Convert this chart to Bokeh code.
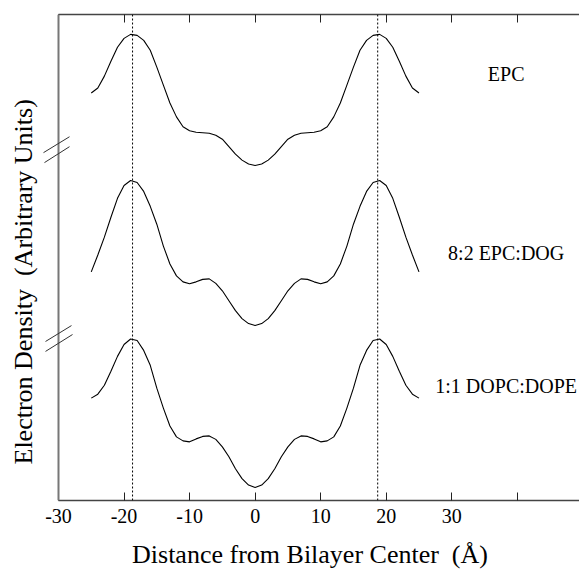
from bokeh.plotting import figure
from bokeh.models import (Range1d, LinearAxis, FixedTicker, Span, Label, Arrow, Title)
from bokeh.embed import file_html
from bokeh.resources import INLINE

# ---- data ----
distance = [-25, -24, -23, -22, -21, -20, -19, -18, -17, -16, -15, -14, -13,
            -12, -11, -10, -9, -8, -7, -6, -5, -4, -3, -2, -1, 0,
            1, 2, 3, 4, 5, 6, 7, 8, 9, 10, 11, 12, 13, 14, 15, 16, 17, 18,
            19, 20, 21, 22, 23, 24, 25]

epc = [73, 78, 90, 105, 119, 128, 132, 131, 126, 116, 99, 81, 63,
       49, 39, 35, 33.5, 33, 32.5, 30.5, 26.5, 19, 11.5, 5.5, 1.5, 0,
       1.5, 5.5, 11.5, 19, 26.5, 30.5, 32.5, 33, 33.5, 35, 39, 49,
       63, 81, 99, 116, 126, 131, 132, 128, 119, 105, 90, 78, 73]

epc_dog = [54, 71, 89, 109, 128, 141, 146, 144, 135, 120, 102, 80, 62,
           50, 44, 42, 44, 46.5, 47, 42.5, 35, 25, 15, 7, 2, 0,
           2, 7, 15, 25, 35, 42.5, 47, 46.5, 44, 42, 44, 50,
           62, 80, 102, 120, 135, 144, 146, 141, 128, 109, 89, 71, 54]

dopc_dope = [90, 94, 103, 117, 132, 144, 149.5, 148, 138, 123, 100, 80, 62,
             51, 47, 46, 49, 51.5, 52, 48.5, 41, 31, 19, 9, 2.5, 0,
             2.5, 9, 19, 31, 41, 48.5, 52, 51.5, 49, 46, 47, 51,
             62, 80, 100, 123, 138, 148, 149.5, 144, 132, 117, 103, 94, 90]

series_names = ["EPC", "8:2 EPC:DOG", "1:1 DOPC:DOPE"]
series_values = [epc, epc_dog, dopc_dope]
series_offsets = [337, 176, 13]          # vertical stacking offsets
headgroup_peaks = [-18.7, 18.7]          # dotted reference lines
x_ticks = [-30, -20, -10, 0, 10, 20, 30]
x_minor_ticks = [40]
x_tick_labels = {-30: "-30", -20: "-20", -10: "-10"}

SERIF = "Liberation Serif"
X_MIN, X_MAX = -30, 49.49

p = figure(width=579, height=571, output_backend="svg", toolbar_location=None,
           x_range=Range1d(-32.746, X_MAX), y_range=Range1d(0, 489),
           min_border_left=40, min_border_right=0, min_border_top=14,
           min_border_bottom=68, x_axis_location=None, y_axis_location=None)
p.outline_line_color = None
p.xgrid.visible = False
p.ygrid.visible = False
p.background_fill_color = "white"
p.border_fill_color = "white"

def make_axis(show_labels):
    ax = LinearAxis(ticker=FixedTicker(ticks=x_ticks, minor_ticks=x_minor_ticks))
    ax.bounds = (X_MIN, X_MAX)
    ax.major_tick_in = 8
    ax.major_tick_out = 0
    ax.minor_tick_in = 8
    ax.minor_tick_out = 0
    ax.major_tick_line_color = "#222222"
    ax.minor_tick_line_color = "#222222"
    ax.axis_line_color = "#444444"
    ax.axis_line_width = 1.5
    if show_labels:
        ax.major_label_overrides = x_tick_labels
        ax.major_label_text_font = SERIF
        ax.major_label_text_font_size = "20px"
        ax.major_label_text_color = "black"
        ax.major_label_standoff = 8
        ax.axis_label = "Distance from Bilayer Center\u00a0 (\u00c5)"
        ax.axis_label_text_font = SERIF
        ax.axis_label_text_font_size = "26px"
        ax.axis_label_text_font_style = "normal"
        ax.axis_label_text_color = "black"
        ax.axis_label_standoff = 14
    else:
        ax.major_label_text_font_size = "8px"
        ax.major_label_text_color = None
        ax.major_label_standoff = 0
    return ax

p.add_layout(make_axis(True), "below")
p.add_layout(make_axis(False), "above")

# left spine
p.add_layout(Span(location=X_MIN, dimension="height", line_color="#777777",
                  line_width=2))

for loc in headgroup_peaks:
    p.add_layout(Span(location=loc, dimension="height", line_color="black",
                      line_width=1, line_dash="2 2"))

for name, vals, off in zip(series_names, series_values, series_offsets):
    ys = [v + off for v in vals]
    p.line(distance, ys, line_color="black", line_width=1.1)

label_pos = [(38.3, 429), (38.3, 249), (38.3, 115)]
for name, (lx, ly) in zip(series_names, label_pos):
    p.add_layout(Label(x=lx, y=ly, text=name, text_font=SERIF,
                       text_font_size="20px", text_align="center",
                       text_baseline="middle", text_color="black"))

# axis-break marks on the left axis
breaks = [(-32.29, 350, -28.32, 366), (-32.14, 340, -28.32, 356),
          (-31.98, 160, -28.02, 176), (-31.98, 150, -27.86, 167)]
for x0, y0, x1, y1 in breaks:
    p.add_layout(Arrow(end=None, x_start=x0, y_start=y0, x_end=x1, y_end=y1,
                       line_color="#333333", line_width=1))

ytitle = Title(text="Electron Density\u00a0 (Arbitrary Units)", align="left",
               offset=36, text_font=SERIF, text_font_size="26px",
               text_font_style="normal", text_color="black",
               vertical_align="middle", standoff=4)
p.add_layout(ytitle, "left")

open("out.html", "w").write(file_html(p, INLINE))
